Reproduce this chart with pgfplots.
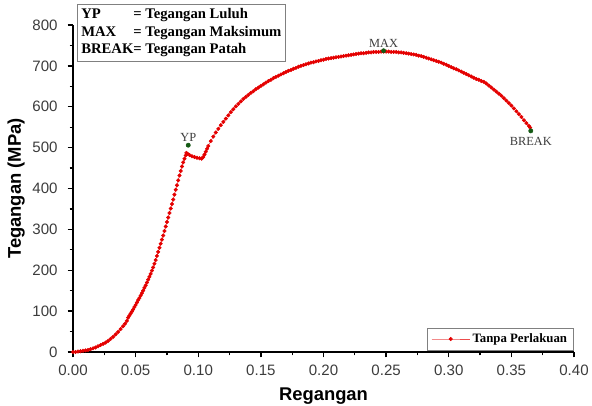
\documentclass[border=0pt]{standalone}
\usepackage{pgfplots}
\pgfplotsset{compat=1.18}
\usepackage{fontspec}
\setmainfont{Liberation Sans}
\newfontfamily\serifb{Liberation Serif}
\definecolor{curvered}{RGB}{228,0,0}
\definecolor{ptgreen}{RGB}{20,90,20}
\definecolor{ticktxt}{RGB}{60,60,60}

\begin{document}
\begin{tikzpicture}
\begin{axis}[
    scale only axis,
    width=375.75pt, height=245.25pt,
    xmin=0, xmax=0.40, ymin=0, ymax=800,
    axis lines*=left,
    axis line style={line width=1.1pt, black},
    xtick={0,0.05,...,0.40}, ytick={0,100,...,800},
    minor x tick num=1, minor y tick num=1,
    tick align=outside,
    major tick length=4pt, minor tick length=2.5pt,
    tick style={line width=1pt, black},
    xticklabel style={yshift=-2pt, /pgf/number format/.cd, fixed, fixed zerofill, precision=2},
    /pgf/number format/assume math mode=true,
    tick label style={font=\fontsize{11.3}{13}\selectfont, text=ticktxt},
    yticklabel style={xshift=-4pt},
    xlabel={\bfseries Regangan},
    ylabel={\bfseries Tegangan (MPa)},
    label style={font=\fontsize{13.8}{15}\selectfont},
    xlabel style={yshift=-2.5pt},
    ylabel style={yshift=-1pt},
    clip=false,
    legend style={at={(1,0.006)}, anchor=south east, draw=gray,
        font=\serifb\bfseries\fontsize{9.6}{11}\selectfont,
        inner xsep=3pt, inner ysep=2pt},
    legend image code/.code={\draw[mark repeat=2,mark phase=2]
        plot coordinates {(0cm,0cm)(0.5cm,0cm)(1cm,0cm)};},
]
\addplot[curvered!70, line width=0.4pt, mark=*, mark size=1.3pt,
    mark options={draw=curvered, fill=curvered}] coordinates {
(0.000,0) (0.002,0) (0.004,1) (0.006,2) (0.008,3) (0.010,4) (0.012,5)
(0.014,7) (0.016,9) (0.018,11) (0.020,14) (0.022,17) (0.024,20)
(0.026,23) (0.028,27) (0.030,32) (0.032,37) (0.034,43) (0.036,49)
(0.038,56) (0.040,63) (0.0415,69) (0.043,76) (0.044,84)
(0.045,89) (0.046,94) (0.047,99) (0.048,104) (0.049,110) (0.050,115)
(0.051,121) (0.052,127) (0.053,132) (0.054,138) (0.055,144) (0.056,150)
(0.057,157) (0.058,163) (0.059,170) (0.060,177) (0.061,184) (0.062,191)
(0.063,199) (0.064,207) (0.065,216) (0.066,225) (0.067,235) (0.068,245)
(0.069,255) (0.070,265) (0.071,275) (0.072,285) (0.073,296) (0.074,307)
(0.075,318) (0.076,329) (0.077,340) (0.078,351) (0.079,362) (0.080,373)
(0.081,385) (0.082,397) (0.083,408) (0.084,420) (0.085,432) (0.086,443)
(0.087,454) (0.088,464) (0.089,473) (0.090,481) (0.0905,487)
(0.0915,485) (0.093,482) (0.095,479) (0.097,477) (0.099,475) (0.101,474)
(0.1027,473) (0.104,477) (0.105,483) (0.106,490) (0.107,497) (0.108,504)
(0.110,516) (0.112,527) (0.114,537) (0.116,546) (0.118,555) (0.120,563)
(0.122,571) (0.124,579) (0.126,587) (0.128,594) (0.130,601) (0.132,607)
(0.134,613) (0.136,619) (0.138,624) (0.140,629) (0.142,634) (0.144,638)
(0.146,643) (0.148,647) (0.150,651) (0.152,655) (0.154,659) (0.156,663)
(0.158,666) (0.160,670) (0.162,673) (0.164,676) (0.166,679) (0.168,682)
(0.170,685) (0.172,688) (0.174,690) (0.176,693) (0.178,695) (0.180,698)
(0.182,700) (0.184,702) (0.186,704) (0.188,706) (0.190,708) (0.192,709)
(0.194,711) (0.196,712) (0.198,714) (0.200,715) (0.202,717) (0.204,718)
(0.206,719) (0.208,720) (0.210,721) (0.212,722) (0.214,723) (0.216,724)
(0.218,725) (0.220,726) (0.222,727) (0.224,728) (0.226,729) (0.228,730)
(0.230,731) (0.232,731) (0.234,732) (0.236,733) (0.238,733) (0.240,734)
(0.242,734) (0.244,734) (0.246,735) (0.248,735) (0.250,735) (0.252,735)
(0.254,734) (0.256,734) (0.258,734) (0.260,733) (0.262,733) (0.264,732)
(0.266,731) (0.268,730) (0.270,729) (0.272,728) (0.274,727) (0.276,725)
(0.278,724) (0.280,722) (0.282,720) (0.284,718) (0.286,716) (0.288,714)
(0.290,712) (0.292,710) (0.294,708) (0.296,705) (0.298,703) (0.300,700)
(0.302,697) (0.304,694) (0.306,692) (0.308,689) (0.310,686) (0.312,683)
(0.314,680) (0.316,677) (0.318,674) (0.320,671) (0.322,668) (0.324,666)
(0.326,663) (0.328,661) (0.330,657) (0.332,652) (0.334,647) (0.336,642)
(0.338,637) (0.340,632) (0.342,627) (0.344,621) (0.346,615) (0.348,609)
(0.350,603) (0.352,596) (0.354,589) (0.356,582) (0.358,575) (0.360,567)
(0.362,560) (0.364,553) (0.365,549)
};
\addlegendentry{Tanpa Perlakuan}
\addplot[only marks, mark=*, mark size=1.6pt, ptgreen, forget plot,
    nodes near coords, point meta=explicit symbolic,
    every node near coord/.append style={font=\serifb\fontsize{9.3}{10}\selectfont,
        text=ticktxt, anchor=south, yshift=-1pt}]
    coordinates {(0.092,506) [YP] (0.248,737) [MAX]};
\addplot[only marks, mark=*, mark size=1.6pt, ptgreen, forget plot,
    nodes near coords, point meta=explicit symbolic,
    every node near coord/.append style={font=\serifb\fontsize{9.3}{10}\selectfont,
        text=ticktxt, anchor=north, yshift=-1pt}]
    coordinates {(0.3655,541) [BREAK]};
\node[draw=gray, anchor=north west, inner xsep=3pt, inner ysep=1.5pt,
    font=\serifb\bfseries\fontsize{11}{13.2}\selectfont, fill=white]
    at (rel axis cs:0.008,1.064) {%
    \begin{tabular}{@{}l@{}l@{}}
    YP & = Tegangan Luluh\\
    MAX & = Tegangan Maksimum\\
    BREAK & = Tegangan Patah
    \end{tabular}};
\end{axis}
\pgfresetboundingbox
\useasboundingbox (-54.75pt,-39.75pt) rectangle (389.25pt,264pt);
\end{tikzpicture}
\end{document}
